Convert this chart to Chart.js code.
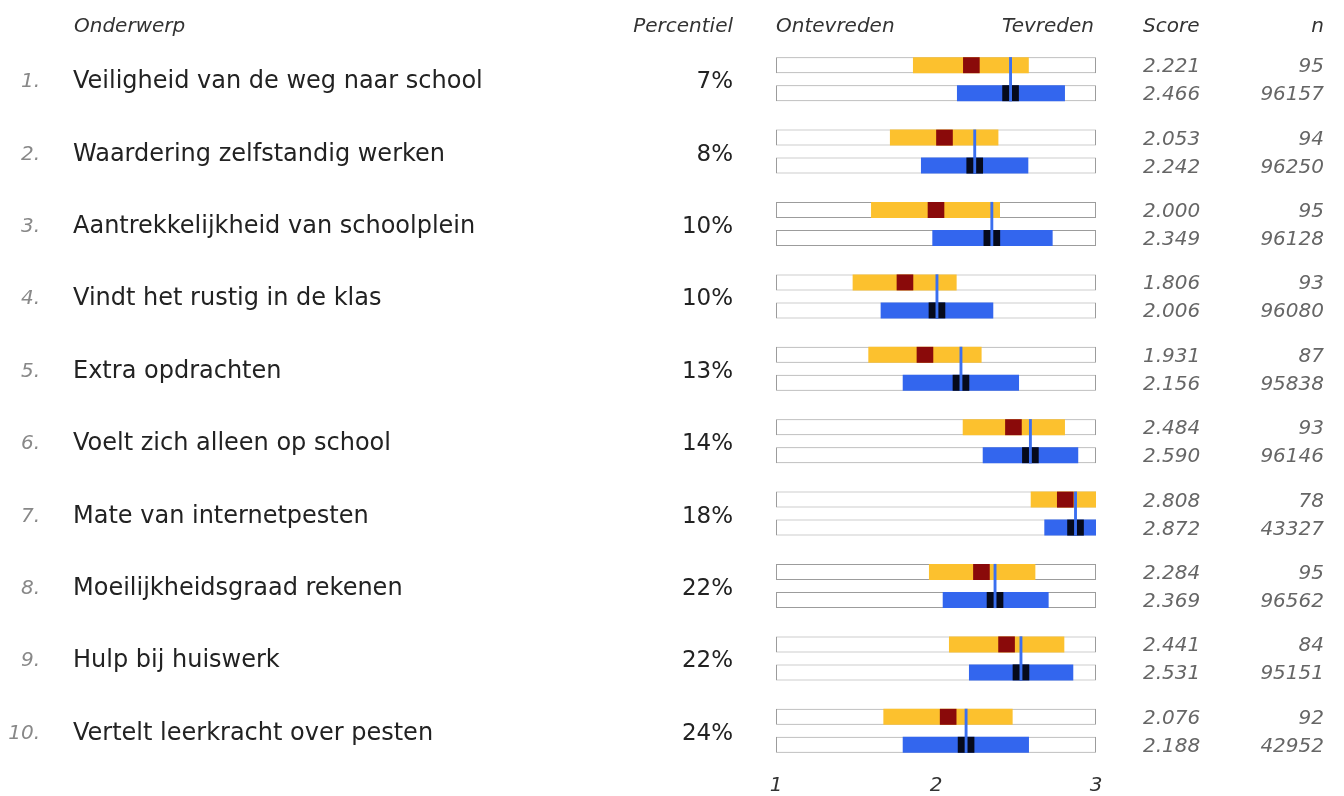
<!DOCTYPE html>
<html>
<head>
<meta charset="utf-8">
<title>Tevredenheid leerlingen</title>
<script src="https://cdn.jsdelivr.net/npm/chart.js"></script>
<style>
  html, body { margin: 0; padding: 0; background: #fff; }
  #chart { display: block; }
</style>
</head>
<body>
<canvas id="chart" width="1344" height="796"></canvas>
<script>
// onderwerpen + percentiel
const topics = [
  'Veiligheid van de weg naar school',
  'Waardering zelfstandig werken',
  'Aantrekkelijkheid van schoolplein',
  'Vindt het rustig in de klas',
  'Extra opdrachten',
  'Voelt zich alleen op school',
  'Mate van internetpesten',
  'Moeilijkheidsgraad rekenen',
  'Hulp bij huiswerk',
  'Vertelt leerkracht over pesten'
];
const percentiles = [7, 8, 10, 10, 13, 14, 18, 22, 22, 24];

// school (bovenste balk)
const schoolScore = [2.221, 2.053, 2.000, 1.806, 1.931, 2.484, 2.808, 2.284, 2.441, 2.076];
const schoolN = [95, 94, 95, 93, 87, 93, 78, 95, 84, 92];
const schoolLow = [1.856, 1.712, 1.594, 1.479, 1.577, 2.167, 2.592, 1.956, 2.081, 1.671];
const schoolHigh = [2.580, 2.390, 2.400, 2.129, 2.285, 2.806, 3.000, 2.621, 2.802, 2.479];

// landelijk (onderste balk)
const refScore = [2.466, 2.242, 2.349, 2.006, 2.156, 2.590, 2.872, 2.369, 2.531, 2.188];
const refN = [96157, 96250, 96128, 96080, 95838, 96146, 43327, 96562, 95151, 42952];
const refLow = [2.131, 1.906, 1.977, 1.654, 1.792, 2.292, 2.677, 2.042, 2.206, 1.792];
const refHigh = [2.806, 2.577, 2.729, 2.358, 2.519, 2.889, 3.000, 2.704, 2.858, 2.581];

// schaal
const scaleMin = 1;
const scaleMax = 3;
const tickValues = [1, 2, 3];

const FONT = "'DejaVu Sans', Verdana, sans-serif";
const CAT_PCT = 0.773;
const BAR_PCT = 0.571;
const MARK = 0.052;
const LINE = 0.009;

const box = () => topics.map(() => [scaleMin, scaleMax]);
const around = (arr, w) => arr.map(v => [v - w, v + w]);
const span = (lo, hi) => lo.map((v, i) => [v, hi[i]]);

const barDefaults = {
  categoryPercentage: CAT_PCT,
  barPercentage: BAR_PCT,
  borderWidth: 0,
  borderSkipped: false
};

// text columns drawn next to the bars
const tableText = {
  id: 'tableText',
  afterDraw(chart) {
    const ctx = chart.ctx;
    const y = chart.scales.y;
    const step = y.getPixelForValue(1) - y.getPixelForValue(0);
    const off = step * CAT_PCT / 4;
    ctx.save();

    ctx.font = 'italic 20px ' + FONT;
    ctx.fillStyle = '#333';
    ctx.textBaseline = 'alphabetic';
    ctx.textAlign = 'left';
    ctx.fillText('Onderwerp', 74, 32);
    ctx.fillText('Ontevreden', 776, 32);
    ctx.fillText('Score', 1143, 32);
    ctx.textAlign = 'right';
    ctx.fillText('Percentiel', 733, 32);
    ctx.fillText('Tevreden', 1094, 32);
    ctx.fillText('n', 1324, 32);

    topics.forEach((t, i) => {
      const c = y.getPixelForValue(i);

      ctx.font = 'italic 20px ' + FONT;
      ctx.fillStyle = '#888';
      ctx.textAlign = 'right';
      ctx.fillText((i + 1) + '.', 40, c + 8);

      ctx.font = '24px ' + FONT;
      ctx.fillStyle = '#222';
      ctx.textAlign = 'left';
      ctx.fillText(t, 73, c + 9);
      ctx.font = '23px ' + FONT;
      ctx.textAlign = 'right';
      ctx.fillText(percentiles[i] + '%', 733, c + 9);

      ctx.font = 'italic 20px ' + FONT;
      ctx.fillStyle = '#666';
      ctx.textAlign = 'left';
      ctx.fillText(schoolScore[i].toFixed(3), 1143, c - off + 7);
      ctx.fillText(refScore[i].toFixed(3), 1143, c + off + 7);
      ctx.textAlign = 'right';
      ctx.fillText(String(schoolN[i]), 1324, c - off + 7);
      ctx.fillText(String(refN[i]), 1324, c + off + 7);
    });
    ctx.restore();
  }
};

new Chart(document.getElementById('chart'), {
  type: 'bar',
  data: {
    labels: topics,
    datasets: [
      {
        label: 'Landelijk score (lijn)',
        data: around(refScore, LINE),
        backgroundColor: '#3a6ff0',
        grouped: false,
        categoryPercentage: 1,
        barPercentage: 0.61,
        borderWidth: 0
      },
      { ...barDefaults, label: 'School score', stack: 'school', data: around(schoolScore, MARK), backgroundColor: '#8a0a0a' },
      { ...barDefaults, label: 'School spreiding', stack: 'school', data: span(schoolLow, schoolHigh), backgroundColor: '#fcc12e' },
      { ...barDefaults, label: 'School kader', stack: 'school', data: box(), backgroundColor: '#fff', borderColor: '#9c9c9c', borderWidth: 1 },
      { ...barDefaults, label: 'Landelijk score', stack: 'ref', data: around(refScore, MARK), backgroundColor: '#060a1c' },
      { ...barDefaults, label: 'Landelijk spreiding', stack: 'ref', data: span(refLow, refHigh), backgroundColor: '#3366ee' },
      { ...barDefaults, label: 'Landelijk kader', stack: 'ref', data: box(), backgroundColor: '#fff', borderColor: '#9c9c9c', borderWidth: 1 }
    ]
  },
  options: {
    indexAxis: 'y',
    responsive: false,
    devicePixelRatio: 1,
    animation: false,
    layout: { padding: { left: 776, right: 248, top: 43, bottom: 0 } },
    plugins: {
      legend: { display: false },
      tooltip: { enabled: false }
    },
    scales: {
      x: {
        type: 'linear',
        min: scaleMin,
        max: scaleMax,
        stacked: false,
        afterBuildTicks(scale) {
          scale.ticks = tickValues.map(v => ({ value: v }));
        },
        afterFit(scale) {
          scale.height = 29;
        },
        ticks: {
          padding: 7,
          color: '#333',
          font: { family: FONT, size: 20, style: 'italic' },
          maxRotation: 0,
          autoSkip: false
        },
        grid: { display: false, drawTicks: false },
        border: { display: false }
      },
      y: {
        type: 'category',
        display: false,
        offset: true
      }
    }
  },
  plugins: [tableText]
});
</script>
</body>
</html>
